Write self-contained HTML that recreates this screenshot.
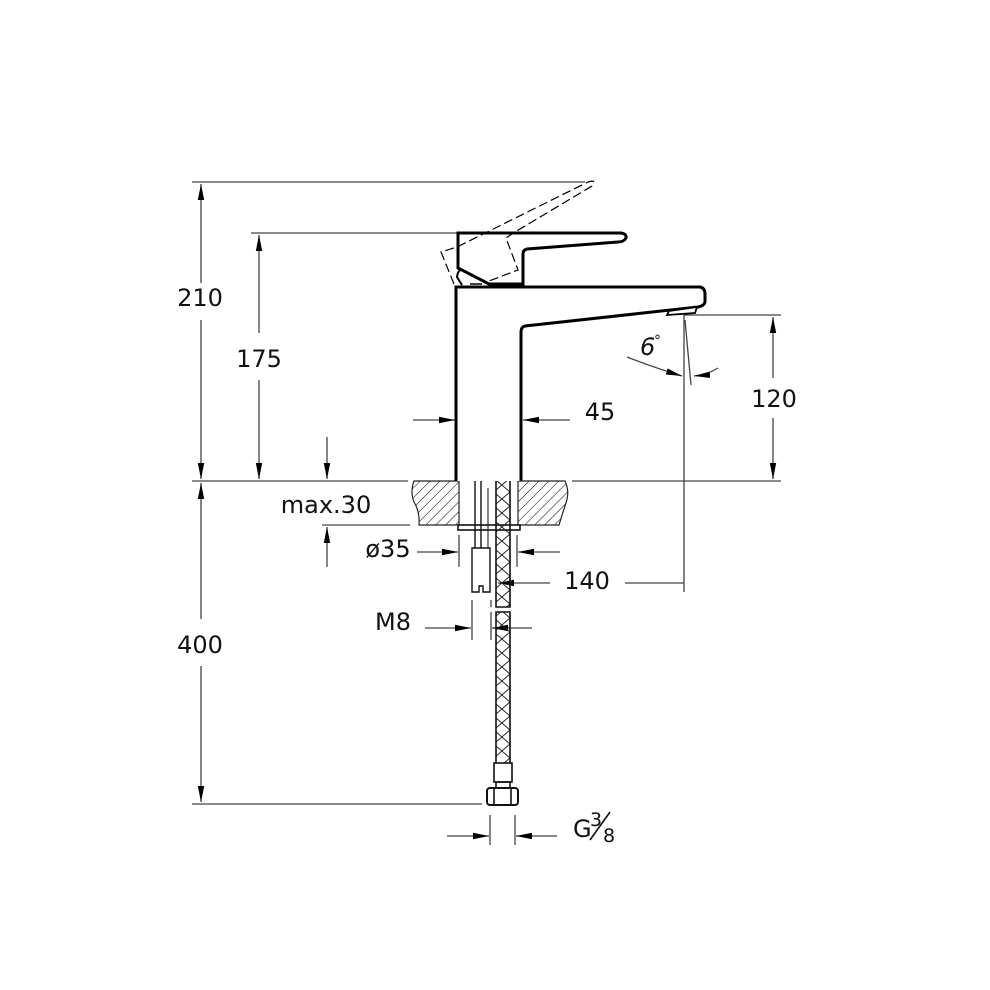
<!DOCTYPE html>
<html><head><meta charset="utf-8"><style>
html,body{margin:0;padding:0;background:#fff;width:990px;height:990px;overflow:hidden}
svg text{font-family:"DejaVu Sans","Liberation Sans",sans-serif;fill:#111}
</style></head><body>
<svg width="990" height="990" viewBox="0 0 990 990" xmlns="http://www.w3.org/2000/svg">
<defs>
<pattern id="h" width="7" height="7" patternUnits="userSpaceOnUse" patternTransform="rotate(45)">
<line x1="0" y1="0" x2="0" y2="7" stroke="#111" stroke-width="1.1"/></pattern>
<marker id="a" viewBox="0 0 16 8" refX="16" refY="4" markerWidth="16" markerHeight="8" markerUnits="userSpaceOnUse" orient="auto-start-reverse">
<path d="M0,0.8 L16,4 L0,7.2 Z" fill="#000"/></marker>
</defs>
<g stroke="#444" stroke-width="1.3" fill="none">
<line x1="192" y1="182" x2="585" y2="182"/>
<line x1="251" y1="233" x2="458" y2="233"/>
<line x1="192" y1="481" x2="408" y2="481"/>
<line x1="572" y1="481" x2="781" y2="481"/>
<line x1="322" y1="525" x2="410" y2="525"/>
<line x1="192" y1="804" x2="482" y2="804"/>
<line x1="684" y1="315" x2="781" y2="315"/>
<line x1="201" y1="184" x2="201" y2="283" marker-start="url(#a)"/>
<line x1="201" y1="320" x2="201" y2="479" marker-end="url(#a)"/>
<line x1="259" y1="235" x2="259" y2="333" marker-start="url(#a)"/>
<line x1="259" y1="380" x2="259" y2="479" marker-end="url(#a)"/>
<line x1="327" y1="437" x2="327" y2="479" marker-end="url(#a)"/>
<line x1="327" y1="567" x2="327" y2="527" marker-end="url(#a)"/>
<line x1="201" y1="483" x2="201" y2="619" marker-start="url(#a)"/>
<line x1="201" y1="666" x2="201" y2="802" marker-end="url(#a)"/>
<line x1="773" y1="317" x2="773" y2="378" marker-start="url(#a)"/>
<line x1="773" y1="418" x2="773" y2="479" marker-end="url(#a)"/>
<line x1="413" y1="420" x2="455" y2="420" marker-end="url(#a)"/>
<line x1="570" y1="420" x2="523" y2="420" marker-end="url(#a)"/>
<line x1="684" y1="315" x2="684" y2="592"/>
<line x1="550" y1="583" x2="498" y2="583" marker-end="url(#a)"/>
<line x1="625" y1="583" x2="684" y2="583"/>
<line x1="459" y1="535" x2="459" y2="567"/>
<line x1="517" y1="535" x2="517" y2="567"/>
<line x1="417" y1="552" x2="458" y2="552" marker-end="url(#a)"/>
<line x1="560" y1="552" x2="518" y2="552" marker-end="url(#a)"/>
<line x1="472" y1="600" x2="472" y2="640"/>
<line x1="491" y1="600" x2="491" y2="640"/>
<line x1="425" y1="628" x2="471" y2="628" marker-end="url(#a)"/>
<line x1="532" y1="628" x2="492" y2="628" marker-end="url(#a)"/>
<line x1="490" y1="815" x2="490" y2="845"/>
<line x1="515" y1="815" x2="515" y2="845"/>
<line x1="447" y1="836" x2="489" y2="836" marker-end="url(#a)"/>
<line x1="557" y1="836" x2="516" y2="836" marker-end="url(#a)"/>
<line x1="685" y1="320" x2="691" y2="385"/>
<path d="M627,357 Q655,368 682,376" marker-end="url(#a)"/>
<path d="M718,368 Q707,375 694,376" marker-end="url(#a)"/>
</g>
<path d="M414,481 L459,481 L459,525 L419,525 Q420,512 414,502 Q410,492 414,481 Z" fill="url(#h)" stroke="#222" stroke-width="1.2"/>
<path d="M518,481 L565,481 Q570,492 566,503 Q562,515 559,525 L518,525 Z" fill="url(#h)" stroke="#222" stroke-width="1.2"/>
<rect x="458" y="525" width="62" height="5" fill="#fff" stroke="#111" stroke-width="1.6"/>
<g stroke="#111" stroke-width="1.4" fill="#fff">
<line x1="475" y1="481" x2="475" y2="548"/>
<line x1="481" y1="481" x2="481" y2="548"/>
<line x1="488" y1="488" x2="488" y2="590" stroke-width="1"/>
<path d="M472,548 H490 V592 H483 V586 H479 V592 H472 Z"/>
</g>
<clipPath id="hc"><rect x="496" y="481" width="14" height="282"/></clipPath>
<g clip-path="url(#hc)" stroke="#222" stroke-width="1" fill="none">
<path d="M496,490 L510,478 M496,504 L510,492 M496,518 L510,506 M496,532 L510,520 M496,546 L510,534 M496,560 L510,548 M496,574 L510,562 M496,588 L510,576 M496,602 L510,590 M496,616 L510,604 M496,630 L510,618 M496,644 L510,632 M496,658 L510,646 M496,672 L510,660 M496,686 L510,674 M496,700 L510,688 M496,714 L510,702 M496,728 L510,716 M496,742 L510,730 M496,756 L510,744 M496,770 L510,758"/>
<path d="M496,480 L510,492 M496,494 L510,506 M496,508 L510,520 M496,522 L510,534 M496,536 L510,548 M496,550 L510,562 M496,564 L510,576 M496,578 L510,590 M496,592 L510,604 M496,606 L510,618 M496,620 L510,632 M496,634 L510,646 M496,648 L510,660 M496,662 L510,674 M496,676 L510,688 M496,690 L510,702 M496,704 L510,716 M496,718 L510,730 M496,732 L510,744 M496,746 L510,758"/>
</g>
<rect x="490" y="607" width="26" height="5" fill="#fff"/>
<g stroke="#111" stroke-width="1.6" fill="none">
<path d="M496,481 V607 H510 V481"/>
<path d="M496,763 V612 H510 V763"/>
<rect x="494" y="763" width="18" height="19" fill="#fff"/>
<rect x="496" y="782" width="14" height="6"/>
<rect x="487" y="788" width="31" height="17" rx="3" fill="#fff" stroke-width="2"/>
<line x1="494" y1="789" x2="494" y2="804"/>
<line x1="511" y1="789" x2="511" y2="804"/>
</g>
<path d="M456,481 V287 H700 Q705,288 705,294 V302 Q704,306 698,307 L525,326 Q521,327 521,332 V481" fill="#fff" stroke="#000" stroke-width="3"/>
<path d="M667,315 L669,311 L697,307 L695,313 Z" fill="#fff" stroke="#000" stroke-width="1.8"/>
<path d="M458,233 H621 Q627,234 626,238 Q624,242 618,242 L527,249 Q523,250 523,254 V284 H489 L458,268 Z" fill="#fff" stroke="#000" stroke-width="3"/>
<path d="M462,285 L457,277 Q458,270 461,270" fill="none" stroke="#000" stroke-width="2"/>
<line x1="470" y1="284" x2="482" y2="284" stroke="#000" stroke-width="1.5"/>
<path d="M454,284 L441,252 L457,247 L588,182 Q597,179 592,186 L515,232 L506,238 L518,270 L489,281" fill="none" stroke="#000" stroke-width="1.2" stroke-dasharray="9,4"/>
<g font-size="24">
<text x="200" y="306" text-anchor="middle">210</text>
<text x="259" y="367" text-anchor="middle">175</text>
<text x="200" y="653" text-anchor="middle">400</text>
<text x="774" y="407" text-anchor="middle">120</text>
<text x="600" y="420" text-anchor="middle">45</text>
<text x="326" y="513" text-anchor="middle">max.30</text>
<text x="388" y="557" text-anchor="middle">ø35</text>
<text x="587" y="589" text-anchor="middle">140</text>
<text x="393" y="630" text-anchor="middle">M8</text>
<text x="573" y="837">G</text>
<text x="590" y="826" font-size="19">3</text>
<text x="603" y="842" font-size="19">8</text>
<text x="640" y="355" font-style="italic">6</text>
<text x="654" y="345" font-size="14">°</text>
</g>
<line x1="590" y1="840" x2="610" y2="812" stroke="#111" stroke-width="1.6"/>
</svg>
</body></html>
